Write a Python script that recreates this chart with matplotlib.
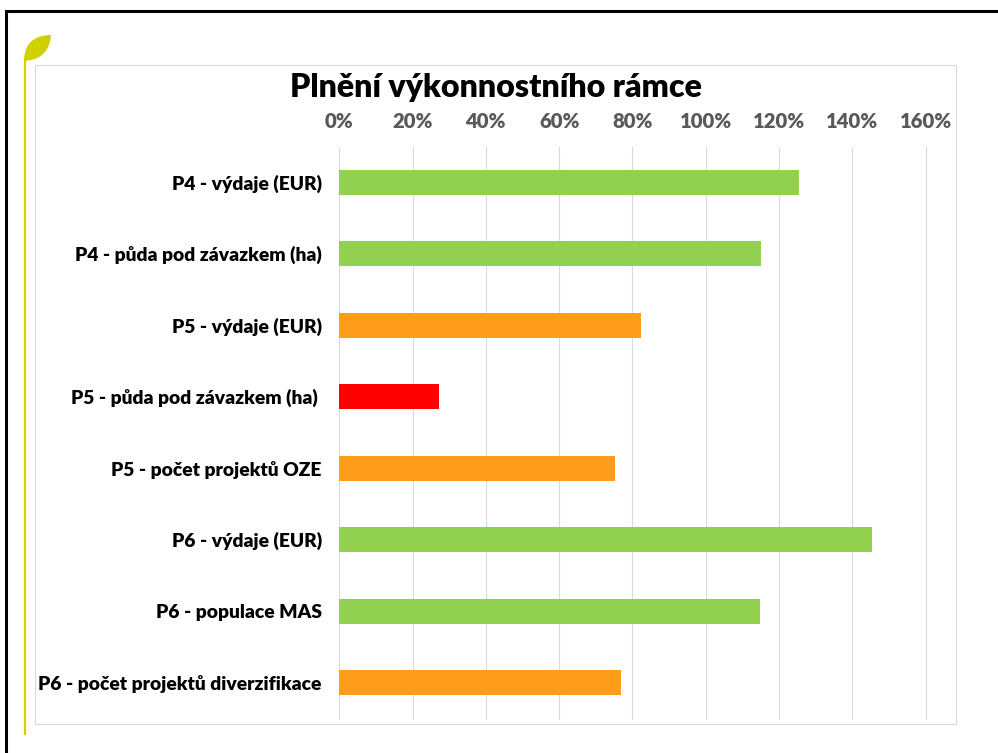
import matplotlib
matplotlib.use('Agg')
import matplotlib.pyplot as plt
from matplotlib.patches import PathPatch, Rectangle
from matplotlib.path import Path

W, H = 998, 753

labels = ['P4 - výdaje (EUR)', 'P4 - půda pod závazkem (ha)', 'P5 - výdaje (EUR)',
          'P5 - půda pod závazkem (ha) ', 'P5 - počet projektů OZE', 'P6 - výdaje (EUR)',
          'P6 - populace MAS', 'P6 - počet projektů diverzifikace']
values = [125.3, 115.0, 82.2, 27.2, 75.2, 145.3, 114.7, 77.0]
colors = ['#92D050', '#92D050', '#FF9C1A', '#FF0000', '#FF9C1A', '#92D050', '#92D050', '#FF9C1A']
ticks = [0, 20, 40, 60, 80, 100, 120, 140, 160]

plt.rcParams['font.family'] = ['Lato', 'DejaVu Sans']

fig = plt.figure(figsize=(W / 100, H / 100), dpi=100)


def fx(px):
    return px / W


def fy(py):
    return 1 - py / H


# slide decoration, in pixel coordinates
bg = fig.add_axes([0, 0, 1, 1])
bg.set_xlim(0, W)
bg.set_ylim(H, 0)
bg.axis('off')
bg.plot([6.5, 6.5, W], [H, 10.5, 10.5], color='black', lw=2.2, solid_joinstyle='miter')
bg.add_patch(Rectangle((35.5, 65), 921, 658.5, fc='white', ec='#D9D9D9', lw=0.8))
bg.plot([25.5, 25.5], [60, 734], color='#D2D200', lw=1.6)
leaf = Path([(24, 61), (24, 42), (36, 35), (51, 35), (50, 48), (44, 60), (24, 61)],
            [Path.MOVETO, Path.CURVE4, Path.CURVE4, Path.CURVE4, Path.CURVE4, Path.CURVE4, Path.CURVE4])
bg.add_patch(PathPatch(leaf, fc='#CFD200', ec='none'))

ax = fig.add_axes([fx(339.2), fy(718.5), fx(586.5), 572 / H])
ax.patch.set_alpha(0)
ypos = range(len(labels))
ax.barh(ypos, values, height=25 / 71.5, color=colors, zorder=3)
ax.set_xlim(0, 160)
ax.set_ylim(len(labels) - 0.5, -0.5)
ax.xaxis.tick_top()
ax.set_xticks(ticks)
ax.set_xticklabels([f'{t}%' for t in ticks], fontsize=14.6, fontweight='heavy', color='#595959')
ax.set_yticks(list(ypos))
ax.set_yticklabels(labels, fontsize=13.85, fontweight='heavy', color='black')
ax.tick_params(axis='both', length=0)
ax.tick_params(axis='x', pad=11)
ax.tick_params(axis='y', pad=12.5)
ax.grid(True, axis='x', color='#D9D9D9', lw=0.8, zorder=0, clip_on=False)
for s in ax.spines.values():
    s.set_visible(False)

fig.text(fx(496), fy(88), 'Plnění výkonnostního rámce', fontsize=23.1, fontweight='heavy',
         color='black', ha='center', va='center')

fig.savefig('out.png', dpi=100)
